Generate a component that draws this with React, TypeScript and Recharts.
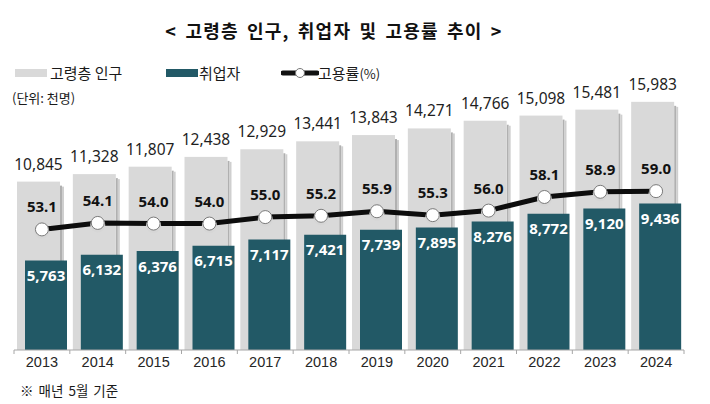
import { Bar, ComposedChart, LabelList, Line, XAxis, YAxis } from 'recharts';

const years = ['2013', '2014', '2015', '2016', '2017', '2018', '2019', '2020', '2021', '2022', '2023', '2024'];
const population = [10845, 11328, 11807, 12438, 12929, 13441, 13843, 14271, 14766, 15098, 15481, 15983];
const employed = [5763, 6132, 6376, 6715, 7117, 7421, 7739, 7895, 8276, 8772, 9120, 9436];
const employmentRate = [53.1, 54.1, 54.0, 54.0, 55.0, 55.2, 55.9, 55.3, 56.0, 58.1, 58.9, 59.0];

const W = 710;
const H = 404;
const MARGIN = { top: 55, right: 26, left: 14, bottom: 0 };
const BAND = (W - MARGIN.left - MARGIN.right) / years.length;

const TEAL = '#225966';
const GREY = '#d9d9d9';
const KR = '"Noto Sans CJK KR", "Noto Sans", sans-serif';
const NUM = '"Noto Sans", "Noto Sans CJK KR", sans-serif';

const data = years.map((year, i) => ({
  year,
  population: population[i],
  employed: employed[i],
  rate: employmentRate[i],
}));

const fmt = (v: unknown) => (typeof v === 'number' ? v.toLocaleString('en-US') : String(v));

// grey bar with a soft drop shadow on its right edge
function ShadowBar(props: any) {
  const { x, y, width, height } = props;
  if (!height || height <= 0) return null;
  return (
    <g>
      <rect x={x + width} y={y + 4} width={2} height={height - 4} fill="#b0b0b0" />
      <rect x={x + width + 2} y={y + 5} width={2} height={height - 5} fill="#cfcfcf" />
      <rect x={x} y={y} width={width} height={height} fill={GREY} />
    </g>
  );
}

function RateDot(props: any) {
  const { cx, cy } = props;
  if (cx == null || cy == null) return null;
  return (
    <g>
      <circle cx={cx} cy={cy + 2} r={7.5} fill="#d6d6d6" />
      <circle cx={cx} cy={cy} r={6.5} fill="#fff" stroke="#7a7a7a" strokeWidth={1} />
    </g>
  );
}

function YearTick(props: any) {
  const { x, y, payload, index } = props;
  const axisY = y - 6;
  const half = BAND / 2;
  return (
    <g>
      <line x1={x - half} x2={x - half} y1={axisY} y2={axisY + 4} stroke="#a6a6a6" />
      {index === years.length - 1 && (
        <line x1={x + half} x2={x + half} y1={axisY} y2={axisY + 4} stroke="#a6a6a6" />
      )}
      <text
        x={x}
        y={y + 11}
        textAnchor="middle"
        fill="#262626"
        style={{ fontFamily: '"Liberation Sans Narrow", "Liberation Sans", sans-serif', fontSize: 14.5 }}
      >
        {payload.value}
      </text>
    </g>
  );
}

function Legend() {
  return (
    <div style={{ position: 'absolute', left: 0, top: 63, height: 22, width: W, fontFamily: KR, fontSize: 15, color: '#1a1a1a' }}>
      <div style={{ position: 'absolute', left: 15, top: 6, width: 32, height: 8, background: GREY }} />
      <div style={{ position: 'absolute', left: 50, top: 0, lineHeight: '20px' }}>고령층 인구</div>
      <div style={{ position: 'absolute', left: 166, top: 6, width: 32, height: 8, background: TEAL }} />
      <div style={{ position: 'absolute', left: 199, top: 0, lineHeight: '20px' }}>취업자</div>
      <svg style={{ position: 'absolute', left: 281, top: 3 }} width={38} height={14}>
        <line x1={2} x2={36} y1={7} y2={7} stroke="#111" strokeWidth={5} strokeLinecap="round" />
        <circle cx={19} cy={7} r={4.5} fill="#fff" stroke="#777" strokeWidth={1} />
      </svg>
      <div style={{ position: 'absolute', left: 318, top: 0, lineHeight: '20px' }}>
        고용률<span style={{ fontSize: 13 }}>(%)</span>
      </div>
    </div>
  );
}

export default function App() {
  return (
    <div style={{ position: 'absolute', left: 0, top: 0, width: W, height: H, background: '#fff', overflow: 'hidden' }}>
      <div
        style={{
          position: 'absolute',
          left: 0,
          top: 17,
          width: 668,
          textAlign: 'center',
          fontFamily: KR,
          fontWeight: 700,
          fontSize: 18,
          letterSpacing: 1.2,
          wordSpacing: 3,
          color: '#111',
          lineHeight: '26px',
        }}
      >
        &lt; 고령층 인구, 취업자 및 고용률 추이 &gt;
      </div>
      <Legend />
      <div style={{ position: 'absolute', left: 12, top: 89, fontFamily: KR, fontSize: 13, color: '#1a1a1a', lineHeight: '18px' }}>
        (단위: 천명)
      </div>

      <div style={{ position: 'absolute', left: 0, top: 0 }}>
        <ComposedChart width={W} height={H} data={data} margin={MARGIN} barGap={-35}>
          <XAxis
            dataKey="year"
            height={54}
            axisLine={{ stroke: '#a6a6a6' }}
            tickLine={false}
            tickSize={4}
            tickMargin={2}
            tick={<YearTick />}
            interval={0}
          />
          <YAxis yAxisId="count" hide domain={[0, 19000]} />
          <YAxis yAxisId="rate" hide orientation="right" domain={[34.5, 80]} />
          <Bar yAxisId="count" dataKey="population" barSize={43} shape={<ShadowBar />} isAnimationActive={false}>
            <LabelList
              dataKey="population"
              position="top"
              offset={12}
              formatter={fmt}
              style={{ fontFamily: NUM, fontSize: 15.5, fill: '#1f1f1f' }}
            />
          </Bar>
          <Bar yAxisId="count" dataKey="employed" barSize={42} fill={TEAL} isAnimationActive={false}>
            <LabelList
              dataKey="employed"
              position="insideTop"
              offset={10}
              formatter={fmt}
              style={{ fontFamily: NUM, fontSize: 15, fontWeight: 700, fill: '#ffffff' }}
            />
          </Bar>
          <Line
            yAxisId="rate"
            dataKey="rate"
            type="linear"
            stroke="#0d0d0d"
            strokeWidth={5}
            dot={<RateDot />}
            activeDot={false}
            isAnimationActive={false}
          >
            <LabelList
              dataKey="rate"
              position="top"
              offset={17}
              formatter={(v: unknown) => (typeof v === 'number' ? v.toFixed(1) : String(v))}
              style={{ fontFamily: NUM, fontSize: 15, fontWeight: 700, fill: '#111' }}
            />
          </Line>
        </ComposedChart>
      </div>

      <div style={{ position: 'absolute', left: 20, top: 381, fontFamily: KR, fontSize: 13.5, color: '#1a1a1a', lineHeight: '18px', wordSpacing: 2 }}>
        ※ 매년 5월 기준
      </div>
    </div>
  );
}
